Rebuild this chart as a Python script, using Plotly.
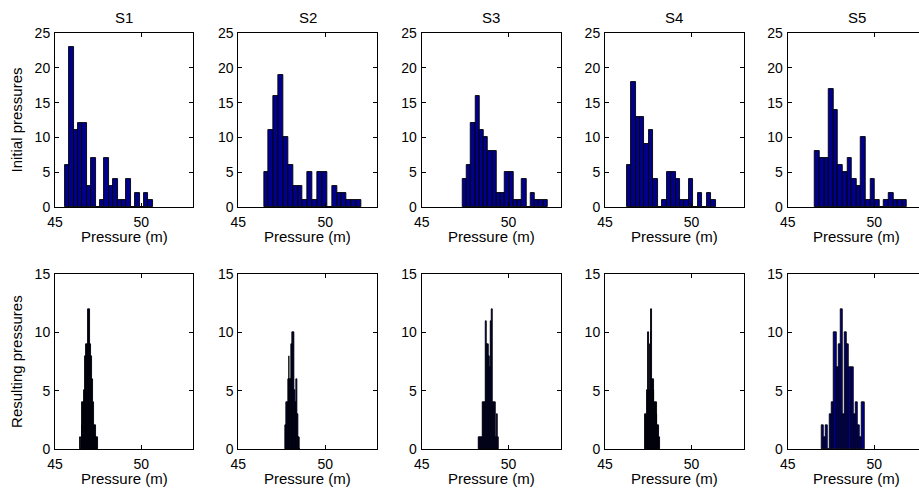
import plotly.graph_objects as go

# ---------------- data ----------------
SCENARIOS = ["S1", "S2", "S3", "S4", "S5"]
ROW_LABELS = ["Initial pressures", "Resulting pressures"]
X_LABEL = "Pressure (m)"
X_TICKS = [45, 50, 55]
Y_TICKS_TOP = [0, 5, 10, 15, 20, 25]
Y_TICKS_BOTTOM = [0, 5, 10, 15]

# histogram bins: first bin edge and bin width for each scenario (metres)
initial_bin_start = [45.57, 46.47, 47.35, 46.25, 46.58]
initial_bin_width = [0.255, 0.28, 0.245, 0.257, 0.266]
resulting_bin_start = [46.43, 47.69, 48.28, 47.33, 46.94]
resulting_bin_width = [0.054, 0.044, 0.0585, 0.043, 0.124]

# counts per bin (20 bins each)
initial_s1 = [6, 23, 11, 12, 12, 3, 7, 0, 1, 7, 3, 4, 1, 1, 4, 0, 2, 0, 2, 1]
initial_s2 = [5, 11, 16, 19, 10, 6, 3, 3, 1, 5, 1, 5, 5, 0, 3, 2, 2, 1, 1, 1]
initial_s3 = [4, 6, 12, 16, 11, 10, 8, 8, 2, 2, 5, 5, 1, 1, 4, 0, 2, 1, 1, 1]
initial_s4 = [6, 18, 13, 13, 9, 11, 4, 0, 1, 5, 5, 4, 1, 1, 4, 0, 2, 0, 2, 1]
initial_s5 = [8, 7, 7, 17, 14, 6, 5, 7, 4, 3, 10, 1, 4, 1, 0, 1, 2, 1, 1, 1]

resulting_s1 = [1, 0, 2, 4, 4, 5, 8, 9, 9, 12, 12, 9, 8, 6, 4, 2, 2, 1, 1, 1]
resulting_s2 = [2, 2, 4, 4, 6, 8, 6, 6, 9, 9, 10, 10, 5, 4, 4, 6, 3, 1, 1, 0]
resulting_s3 = [1, 1, 1, 1, 4, 4, 4, 11, 9, 9, 8, 7, 11, 12, 4, 4, 4, 1, 3, 1]
resulting_s4 = [3, 3, 5, 5, 10, 5, 9, 10, 12, 6, 6, 5, 4, 4, 4, 3, 2, 2, 1, 1]
resulting_s5 = [2, 1, 2, 0, 3, 4, 10, 7, 9, 12, 3, 10, 9, 7, 7, 3, 4, 2, 1, 4]

initial_counts = [initial_s1, initial_s2, initial_s3, initial_s4, initial_s5]
resulting_counts = [resulting_s1, resulting_s2, resulting_s3, resulting_s4, resulting_s5]

# ---------------- layout geometry (pixels in a 919x496 canvas) ----------------
W, H = 919, 496
col_px = [(55, 193), (238.3, 377.3), (421.7, 560.7), (605, 743.5), (787.7, 926.2)]
row_px = [(33, 207), (274.3, 449)]

FILL = "rgb(0,0,140)"
FAMILY = "Liberation Sans, Arial, Helvetica, sans-serif"
TICK_FONT = dict(family=FAMILY, size=14, color="black")
LABEL_FONT = dict(family=FAMILY, size=15, color="black")
TITLE_FONT = dict(family=FAMILY, size=15, color="black")

fig = go.Figure()
layout = {}
annotations = []


def centers(start, width, n):
    return [start + width * (i + 0.5) for i in range(n)]


idx = 0
for r, (starts, widths, counts_list, yticks) in enumerate([
    (initial_bin_start, initial_bin_width, initial_counts, Y_TICKS_TOP),
    (resulting_bin_start, resulting_bin_width, resulting_counts, Y_TICKS_BOTTOM),
]):
    for c in range(5):
        idx += 1
        xa = "x" if idx == 1 else f"x{idx}"
        ya = "y" if idx == 1 else f"y{idx}"
        counts = counts_list[c]
        fig.add_trace(go.Bar(
            x=centers(starts[c], widths[c], len(counts)),
            y=counts,
            width=[widths[c]] * len(counts),
            marker=dict(color=FILL, line=dict(color="black", width=0.9)),
            xaxis=xa, yaxis=ya, showlegend=False, hoverinfo="x+y",
        ))
        x0, x1 = col_px[c]
        y0, y1 = row_px[r]
        # last column is cut by the right edge of the canvas
        dx1 = min(x1, W) / W
        xmax = 45 + 8 * (min(x1, W) - x0) / (x1 - x0)
        xkey = "xaxis" if idx == 1 else f"xaxis{idx}"
        ykey = "yaxis" if idx == 1 else f"yaxis{idx}"
        layout[xkey] = dict(
            domain=[x0 / W, dx1], anchor=ya, range=[45, xmax],
            tickmode="array", tickvals=X_TICKS, ticktext=[str(t) for t in X_TICKS],
            ticks="inside", ticklen=4, tickcolor="black", tickwidth=1,
            showline=True, linecolor="black", linewidth=1, mirror="ticks",
            showgrid=False, zeroline=False, automargin=False,
            tickfont=TICK_FONT, ticklabelstandoff=2,
        )
        layout[ykey] = dict(
            domain=[(H - y1) / H, (H - y0) / H], anchor=xa,
            range=[0, yticks[-1]],
            tickmode="array", tickvals=yticks, ticktext=[str(t) for t in yticks],
            ticks="inside", ticklen=4, tickcolor="black", tickwidth=1,
            showline=True, linecolor="black", linewidth=1,
            mirror=("ticks" if c < 4 else False),
            showgrid=False, zeroline=False, automargin=False,
            tickfont=TICK_FONT, ticklabelstandoff=1,
        )
        if c == 0:
            layout[ykey]["title"] = dict(text=ROW_LABELS[r], font=LABEL_FONT, standoff=8)
        # x-axis title just under the tick labels
        annotations.append(dict(
            text=X_LABEL, x=(x0 + x1) / 2 / W, y=(H - (y1 + 29)) / H,
            xref="paper", yref="paper", showarrow=False, font=LABEL_FONT,
            xanchor="center", yanchor="middle",
        ))

for c, name in enumerate(SCENARIOS):
    x0, x1 = col_px[c]
    annotations.append(dict(
        text=name, x=(x0 + x1) / 2 / W, y=(H - 18) / H, xref="paper", yref="paper",
        showarrow=False, font=TITLE_FONT, xanchor="center", yanchor="middle",
    ))

fig.update_layout(
    **layout,
    annotations=annotations,
    width=W, height=H,
    margin=dict(l=0, r=0, t=0, b=0, autoexpand=False),
    paper_bgcolor="white", plot_bgcolor="white",
    font=TICK_FONT,
    bargap=0,
)

fig.write_html(
    "out.html",
    config={"displayModeBar": False},
    post_script="document.body.style.margin='0';document.body.style.overflow='hidden';",
)
